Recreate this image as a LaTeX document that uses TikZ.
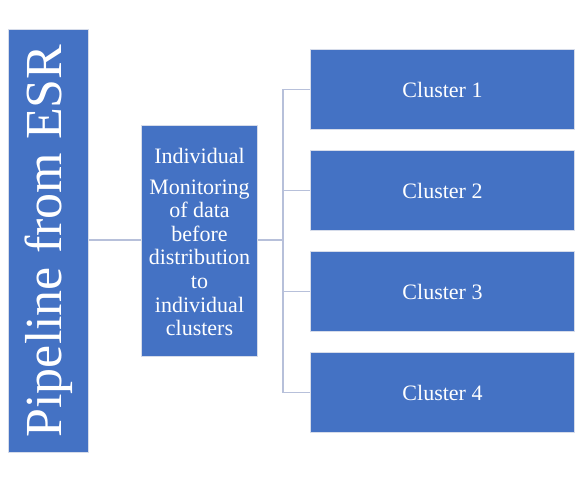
\documentclass[tikz,border=0pt]{standalone}
\usepackage{fontspec}
\setmainfont{Liberation Serif}
\definecolor{boxblue}{HTML}{4472C4}
\definecolor{linkc}{HTML}{B7C0DA}
\definecolor{edgec}{HTML}{D6DCEA}
\begin{document}
\begin{tikzpicture}[x=1pt,y=-1pt,
  blk/.style={draw=edgec,line width=1pt,fill=boxblue,text=white,inner sep=0pt,anchor=north west},
  link/.style={draw=linkc,line width=1.6pt}]
\useasboundingbox (0,0) rectangle (585,477);
\node[blk,minimum width=80pt,minimum height=423pt] (esr) at (8,29) {};
\node[rotate=90,text=white,font=\fontsize{52}{60}\selectfont] (esrt) at (esr.center) {Pipeline from ESR};
\node[blk,minimum width=116pt,minimum height=231pt] (mon) at (141,125) {};
\node[text=white,align=center,font=\fontsize{22}{23.6}\selectfont,anchor=north,inner sep=0pt] (mont) at ([yshift=-23pt]mon.north)
  {Individual\\[7pt]Monitoring\\of data\\before\\distribution\\to\\individual\\clusters};
\node[blk,minimum width=264pt,minimum height=80pt,font=\fontsize{22}{24}\selectfont] (c1) at (310,49) {Cluster 1};
\node[blk,minimum width=264pt,minimum height=80pt,font=\fontsize{22}{24}\selectfont] (c2) at (310,150) {Cluster 2};
\node[blk,minimum width=264pt,minimum height=80pt,font=\fontsize{22}{24}\selectfont] (c3) at (310,251) {Cluster 3};
\node[blk,minimum width=264pt,minimum height=80pt,font=\fontsize{22}{24}\selectfont] (c4) at (310,352) {Cluster 4};
\coordinate (bus) at (283,240);
\draw[link] (esr.east |- 0,240) -- (mon.west |- 0,240);
\draw[link] (mon.east |- 0,240) -- (bus);
\draw[link] (c1.west) -| (bus |- c1.west) -- (bus |- c4.west) -- (c4.west);
\draw[link] (c2.west) -- (bus |- c2.west);
\draw[link] (c3.west) -- (bus |- c3.west);
\end{tikzpicture}
\end{document}
